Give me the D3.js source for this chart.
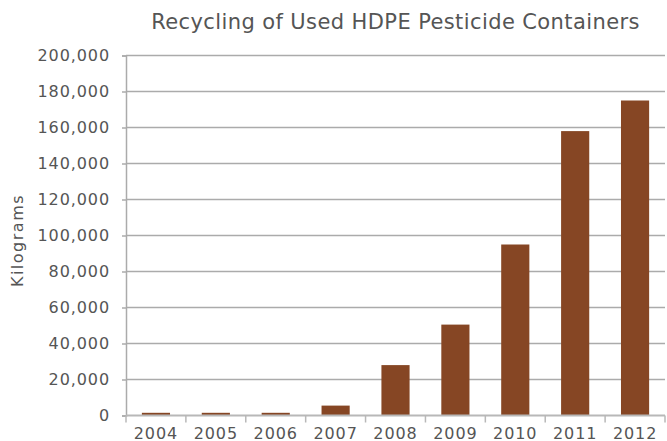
<!DOCTYPE html>
<html>
<head>
<meta charset="utf-8">
<script src="https://cdn.jsdelivr.net/npm/d3@7"></script>
<style>
  html, body { margin: 0; padding: 0; background: #fff; }
  svg { display: block; }
  text { font-family: "DejaVu Sans", "Noto Sans", sans-serif; fill: #555; }
</style>
</head>
<body>
<svg id="chart" width="667" height="441"></svg>
<script>
// Recycled HDPE pesticide containers, kilograms per year
const years = ["2004", "2005", "2006", "2007", "2008", "2009", "2010", "2011", "2012"];
const kilograms = [1500, 1500, 1500, 5500, 28000, 50500, 95000, 158000, 175000];
const yTicks = [0, 20000, 40000, 60000, 80000, 100000, 120000, 140000, 160000, 180000, 200000];

const svg = d3.select("#chart");
const margin = { top: 55.5, right: 2, bottom: 25.5, left: 126 };
const width = 667 - margin.left - margin.right;
const height = 441 - margin.top - margin.bottom;

const x = d3.scaleBand().domain(years).range([0, 539]).paddingInner(0.53).paddingOuter(0.265);
const y = d3.scaleLinear().domain([0, 200000]).range([height, 0]);
const fmt = d3.format(",");

const g = svg.append("g").attr("transform", `translate(${margin.left},${margin.top})`);

// horizontal gridlines
g.append("g")
  .selectAll("line")
  .data(yTicks.filter(d => d > 0))
  .join("line")
  .attr("x1", 0).attr("x2", width)
  .attr("y1", d => y(d)).attr("y2", d => y(d))
  .attr("stroke", "#ababab").attr("stroke-width", 1.5);

// bars
g.append("g")
  .selectAll("rect")
  .data(years.map((yr, i) => ({ yr, v: kilograms[i] })))
  .join("rect")
  .attr("x", d => x(d.yr))
  .attr("width", x.bandwidth())
  .attr("y", d => y(d.v))
  .attr("height", d => height - y(d.v))
  .attr("fill", "#864624");

// y axis
const yAxis = g.append("g")
  .call(d3.axisLeft(y).tickValues(yTicks).tickFormat(fmt).tickSize(4).tickPadding(12));
yAxis.select(".domain").attr("stroke", "#ababab").attr("stroke-width", 1.5);
yAxis.selectAll(".tick line").attr("stroke", "#ababab").attr("stroke-width", 1.5);
yAxis.selectAll("text")
  .attr("font-size", 16).attr("fill", "#555")
  .attr("font-family", "DejaVu Sans").attr("letter-spacing", 0.9);

// x axis: ticks at band boundaries
const xAxis = g.append("g").attr("transform", `translate(0,${height})`);
xAxis.append("line")
  .attr("x1", 0).attr("x2", 539)
  .attr("stroke", "#b8b8b8").attr("stroke-width", 2);
const bounds = years.map(yr => x(yr) - x.step() * x.paddingInner() / 2);
bounds.push(539);
xAxis.selectAll(".bt")
  .data(bounds)
  .join("line")
  .attr("class", "bt")
  .attr("x1", d => d).attr("x2", d => d)
  .attr("y1", 0).attr("y2", 7)
  .attr("stroke", "#b8b8b8").attr("stroke-width", 1.5);
xAxis.selectAll(".lbl")
  .data(years)
  .join("text")
  .attr("class", "lbl")
  .attr("x", d => x(d) + x.bandwidth() / 2)
  .attr("y", 23.5)
  .attr("text-anchor", "middle")
  .attr("font-size", 16)
  .attr("letter-spacing", 0.9)
  .text(d => d);

// y axis title
svg.append("text")
  .attr("transform", `translate(23,${240.5}) rotate(-90)`)
  .attr("text-anchor", "middle")
  .attr("font-size", 16)
  .attr("letter-spacing", 1.5)
  .text("Kilograms");

// chart title
svg.append("text")
  .attr("x", margin.left + 539 / 2)
  .attr("y", 29)
  .attr("text-anchor", "middle")
  .attr("font-size", 21)
  .attr("letter-spacing", 0.4)
  .text("Recycling of Used HDPE Pesticide Containers");
</script>
</body>
</html>
